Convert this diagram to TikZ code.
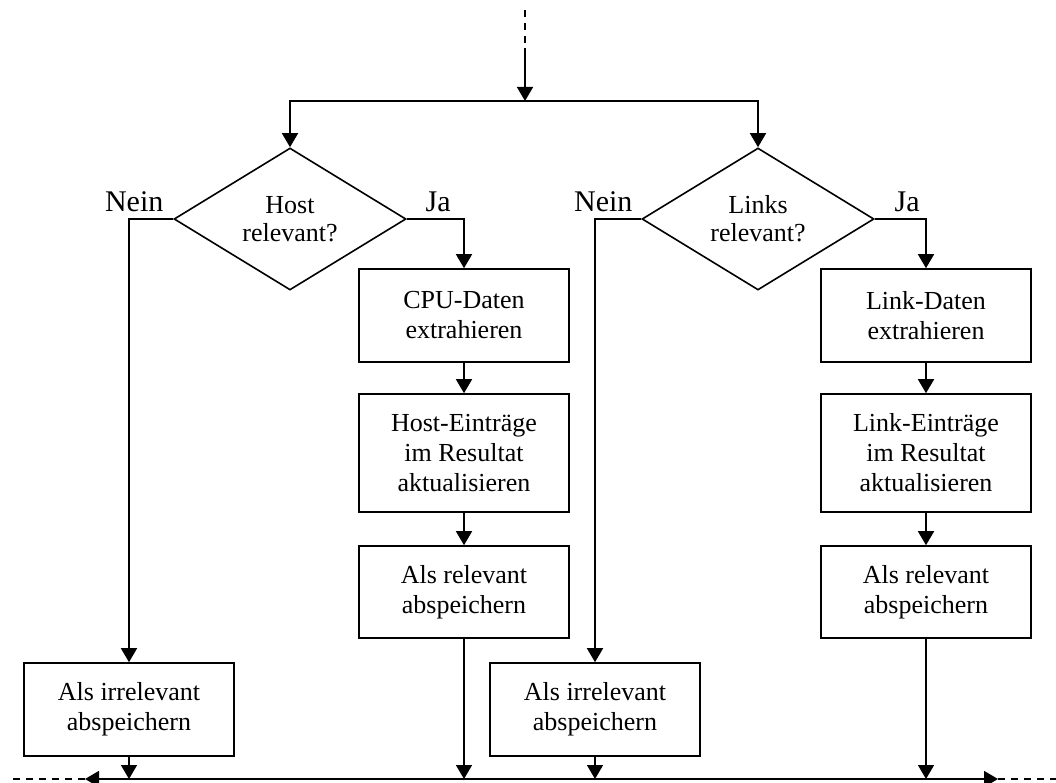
\documentclass[tikz,border=0pt]{standalone}
\usepackage{fontspec}
\setmainfont{Liberation Serif}
\usetikzlibrary{shapes.geometric,arrows.meta}

\begin{document}
\begin{tikzpicture}[
    x=1pt, y=-1pt,
    line width=1.6pt,
    box/.style={draw, minimum width=210pt, align=center, inner sep=2pt,
        font=\fontsize{26}{30}\selectfont},
    decision/.style={draw, diamond, aspect=1.63, inner sep=0pt,
        minimum width=232pt, minimum height=142pt, align=center,
        font=\fontsize{26}{28}\selectfont},
    answer/.style={font=\fontsize{30}{32}\selectfont, inner sep=0pt},
    flow/.style={-{Triangle[width=16pt,length=14pt]}},
    open end/.style={dash pattern=on 7pt off 6pt},
]
\useasboundingbox (0,0) rectangle (1056,783);

% Incoming flow and split
\coordinate (top) at (525,10);
\coordinate (topmid) at (525,48);
\coordinate (split) at (525,101);

% Decisions
\node[decision] (host) at (290,219) {Host\\relevant?};
\node[decision] (links) at (758,219) {Links\\relevant?};

\node[answer, anchor=base east] (hostno) at ([xshift=-9pt,yshift=7pt]host.west) {Nein};
\node[answer, anchor=base west] (hostyes) at ([xshift=18pt,yshift=7pt]host.east) {Ja};
\node[answer, anchor=base east] (linksno) at ([xshift=-8pt,yshift=7pt]links.west) {Nein};
\node[answer, anchor=base west] (linksyes) at ([xshift=19pt,yshift=7pt]links.east) {Ja};

% Host column
\node[box, minimum height=93pt] (cpu) at (464,315.5) {CPU-Daten\\extrahieren};
\node[box, minimum height=118pt] (hostres) at (464,453) {Host-Einträge\\im Resultat\\aktualisieren};
\node[box, minimum height=92pt] (hostrel) at (464,592) {Als relevant\\abspeichern};
\node[box, minimum height=93pt] (hostirr) at (129,709.5) {Als irrelevant\\abspeichern};

% Link column
\node[box, minimum height=93pt] (linkdata) at (926,315.5) {Link-Daten\\extrahieren};
\node[box, minimum height=118pt] (linkres) at (926,453) {Link-Einträge\\im Resultat\\aktualisieren};
\node[box, minimum height=92pt] (linkrel) at (926,592) {Als relevant\\abspeichern};
\node[box, minimum height=93pt] (linkirr) at (595,709.5) {Als irrelevant\\abspeichern};

% Outgoing bus
\coordinate (busL) at (85,779);
\coordinate (busR) at (998,779);
\coordinate (endL) at (8,779);
\coordinate (endR) at (1056,779);

% Connectors
\draw[open end] (top) -- (topmid);
\draw[flow] (topmid) -- (split);
\draw[flow] (split) -| (host.north);
\draw[flow] (split) -| (links.north);

\draw[flow] (host.west) -| (hostirr.north);
\draw[flow] (host.east) -| (cpu.north);
\draw[flow] (cpu) -- (hostres);
\draw[flow] (hostres) -- (hostrel);

\draw[flow] (links.west) -| (linkirr.north);
\draw[flow] (links.east) -| (linkdata.north);
\draw[flow] (linkdata) -- (linkres);
\draw[flow] (linkres) -- (linkrel);

\draw[flow] (hostirr.south) -- (hostirr.south |- busL);
\draw[flow] (hostrel.south) -- (hostrel.south |- busL);
\draw[flow] (linkirr.south) -- (linkirr.south |- busL);
\draw[flow] (linkrel.south) -- (linkrel.south |- busL);

\draw[{Triangle[width=16pt,length=14pt]}-{Triangle[width=16pt,length=14pt]}] (busL) -- (busR);
\draw[open end] (busL) -- (endL);
\draw[open end] (busR) -- (endR);

\end{tikzpicture}
\end{document}
